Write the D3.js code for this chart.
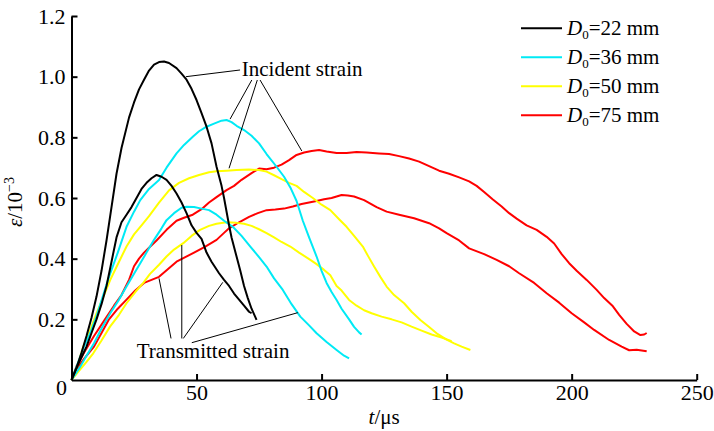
<!DOCTYPE html>
<html>
<head>
<meta charset="utf-8">
<script src="https://cdn.jsdelivr.net/npm/d3@7"></script>
<style>
  body { margin: 0; background: #fff; }
  svg text { font-family: "Liberation Serif", "DejaVu Serif", "Times New Roman", serif; }
</style>
</head>
<body>
<div id="main"></div>
<script>
// strain curves, [t (us), strain (1e-3)]
var inc22 = [[0,0],[2,0.04],[4,0.09],[6,0.145],[8,0.205],[10,0.275],[12,0.36],[14,0.46],[16,0.57],[18,0.68],[20,0.765],[23,0.865],[25,0.915],[27,0.958],[29,0.99],[31,1.02],[33,1.04],[35,1.048],[37,1.05],[39,1.045],[42,1.028],[44,1.01],[46,0.99],[48,0.96],[50,0.923],[52,0.88],[54,0.835],[56,0.78],[58,0.703],[60,0.64],[61,0.6],[63,0.51],[64,0.47],[66,0.407],[67.5,0.36],[69,0.31],[70.5,0.27],[72,0.235],[74,0.198]];
var trn22 = [[0,0],[2,0.04],[4,0.075],[6,0.11],[8,0.155],[10,0.2],[12,0.25],[14,0.31],[16,0.39],[18,0.47],[20,0.52],[22,0.545],[24,0.57],[26,0.6],[28,0.63],[30,0.65],[32,0.665],[34,0.676],[36,0.67],[38,0.66],[40,0.64],[42,0.615],[44,0.585],[46,0.55],[48,0.51],[50,0.485],[52,0.465],[54,0.42],[56,0.39],[59,0.352],[61,0.33],[63,0.31],[65,0.285],[67,0.265],[69,0.245],[71,0.225],[72,0.22]];
var inc36 = [[0,0],[3,0.066],[5,0.11],[7.5,0.155],[10,0.21],[12.5,0.275],[15,0.34],[18.5,0.42],[22,0.505],[25,0.555],[27.5,0.593],[31,0.63],[35,0.659],[38,0.7],[42,0.747],[45,0.775],[48.5,0.802],[51,0.82],[54,0.835],[57,0.845],[60,0.855],[62,0.857],[64,0.85],[66,0.838],[69,0.824],[72,0.805],[75,0.78],[78,0.745],[82,0.703],[85,0.67],[87.5,0.635],[90,0.59],[92.5,0.525],[95,0.47],[98,0.407],[100,0.36],[102,0.32],[104,0.29],[106,0.264],[108,0.235],[111,0.2],[113,0.175],[115,0.157],[116,0.15]];
var trn36 = [[0,0],[3.5,0.044],[6,0.08],[9,0.121],[12,0.17],[15.5,0.22],[19,0.265],[22,0.308],[25,0.35],[27.5,0.385],[30,0.42],[33,0.462],[36,0.5],[38,0.527],[41,0.55],[44,0.568],[46,0.571],[49,0.57],[52,0.565],[55,0.56],[58,0.545],[61,0.525],[64.5,0.505],[68,0.475],[71.5,0.44],[75,0.405],[78,0.374],[81,0.335],[84.5,0.297],[88,0.25],[91.5,0.209],[95,0.18],[98,0.154],[102,0.125],[106,0.099],[109,0.08],[111,0.071]];
var inc50 = [[0,0],[2.5,0.05],[4.7,0.11],[7.5,0.165],[10,0.22],[13,0.28],[15.5,0.33],[19,0.39],[22,0.44],[25,0.48],[28,0.51],[31,0.54],[35,0.585],[39,0.625],[43,0.65],[47,0.665],[51,0.676],[55,0.685],[58,0.688],[62,0.69],[66,0.692],[71,0.694],[75,0.692],[78,0.687],[81,0.675],[84,0.662],[87,0.65],[90,0.64],[93,0.62],[96.5,0.6],[100,0.578],[103.5,0.56],[107,0.53],[110,0.505],[113,0.475],[116.5,0.44],[118.5,0.41],[121,0.374],[123.5,0.34],[126,0.308],[129,0.28],[133,0.253],[136,0.225],[139.5,0.198],[143,0.175],[146,0.154],[150,0.133],[153,0.121],[156,0.11],[159.5,0.099]];
var trn50 = [[0,0],[3,0.03],[6,0.06],[8.7,0.088],[12,0.13],[15.4,0.176],[19,0.215],[22,0.253],[25.5,0.29],[28.7,0.32],[31.4,0.35],[35,0.38],[38,0.407],[41,0.43],[44.7,0.451],[48,0.475],[51.4,0.495],[55,0.508],[58,0.515],[62,0.52],[66,0.518],[69,0.515],[72,0.508],[75,0.497],[78,0.484],[81,0.47],[84,0.455],[87.5,0.44],[91,0.42],[95.5,0.396],[98,0.382],[101,0.363],[103.5,0.345],[106,0.31],[108,0.295],[111,0.264],[114,0.245],[117,0.23],[120,0.22],[124,0.209],[128,0.2],[132,0.19],[136,0.176],[140,0.163],[144,0.15],[148,0.14],[152,0.128]];
var inc75 = [[0,0],[2,0.045],[5,0.09],[9,0.145],[13,0.195],[17,0.245],[20,0.28],[23,0.33],[25,0.375],[27,0.4],[29,0.42],[31.5,0.44],[34,0.46],[38,0.495],[42,0.525],[45,0.535],[48.5,0.545],[52,0.563],[55,0.585],[58,0.603],[62,0.626],[65,0.64],[68,0.66],[72,0.682],[75,0.697],[78,0.695],[81,0.7],[84,0.71],[87,0.725],[90,0.742],[93,0.75],[96,0.755],[99,0.758],[102,0.753],[106,0.748],[110,0.748],[114,0.752],[118,0.75],[123,0.747],[127,0.745],[131,0.738],[135,0.73],[139,0.72],[143,0.705],[147,0.69],[151,0.68],[155,0.668],[159,0.655],[162,0.64],[165,0.62],[168.5,0.595],[172,0.572],[175,0.55],[178,0.532],[182,0.51],[186,0.495],[190,0.472],[193,0.45],[196,0.415],[199,0.385],[202,0.36],[206,0.33],[210,0.297],[213,0.27],[216.5,0.243],[219,0.215],[222,0.185],[225,0.16],[227.5,0.148],[229,0.15],[230,0.155]];
var trn75 = [[0,0],[2,0.035],[5,0.07],[9,0.11],[12,0.155],[15,0.2],[18.5,0.235],[22,0.265],[25.5,0.295],[29,0.32],[32,0.33],[35,0.34],[38.5,0.365],[42,0.39],[45.5,0.405],[49,0.42],[53.5,0.44],[58,0.462],[61,0.485],[63,0.5],[67,0.52],[71,0.538],[74.5,0.55],[78,0.56],[81.5,0.562],[85,0.565],[88.5,0.572],[92,0.58],[95,0.585],[98,0.59],[101,0.596],[104,0.6],[108,0.61],[110.5,0.608],[113,0.605],[117,0.593],[122,0.57],[126,0.555],[131,0.545],[137,0.533],[143,0.517],[147,0.5],[150,0.484],[155,0.46],[159,0.434],[165,0.415],[170,0.396],[175,0.375],[179,0.352],[185,0.32],[190,0.286],[195,0.255],[200,0.22],[205,0.19],[209,0.165],[215,0.132],[220,0.11],[223,0.098],[226,0.1],[230,0.095]];

var seriesNames = ["22", "36", "50", "75"];
var seriesColors = ["#000000", "#00eaf5", "#ffff00", "#ff0000"];
var seriesCurves = [[inc22, trn22], [inc36, trn36], [inc50, trn50], [inc75, trn75]];

var xTicks = [50, 100, 150, 200, 250];
var yTicks = [0.2, 0.4, 0.6, 0.8, 1.0, 1.2];

// annotation leaders in data units: [t1, v1, t2, v2]
var incidentLabel = {t: 68.1, v: 1.002, text: "Incident strain"};
var incidentLeaders = [[67.4, 1.022, 45.8, 1.0], [72.1, 0.989, 63.4, 0.86], [74.3, 0.989, 63, 0.698], [75.4, 0.989, 92.1, 0.755]];
var transmittedLabel = {t: 26.1, v: 0.0725, text: "Transmitted strain"};
var transmittedLeaders = [[39.8, 0.137, 35, 0.335], [44.1, 0.137, 44.1, 0.445], [44.7, 0.137, 60.5, 0.322], [48.1, 0.123, 90.5, 0.222]];

var serif = "'Liberation Serif', 'DejaVu Serif', serif";
var width = 714, height = 431;
var svg = d3.select("#main").append("svg")
  .attr("width", width)
  .attr("height", height)
  .attr("font-family", serif);

var x = d3.scaleLinear().domain([0, 250]).range([71.5, 696.7]);
var y = d3.scaleLinear().domain([0, 1.2]).range([380, 16]);

var line = d3.line()
  .x(function(d) { return x(d[0]); })
  .y(function(d) { return y(d[1]); });

// curves, drawn red first so black stays on top
for (var i = seriesCurves.length - 1; i >= 0; i--) {
  seriesCurves[i].forEach(function(c) {
    svg.append("path")
      .attr("d", line(c))
      .attr("fill", "none")
      .attr("stroke", seriesColors[i])
      .attr("stroke-width", 2)
      .attr("stroke-linejoin", "round");
  });
}

// axes
var xAxis = d3.axisBottom(x).tickValues(xTicks).tickSizeInner(-6).tickSizeOuter(0).tickPadding(4);
var gx = svg.append("g").attr("transform", "translate(0," + y(0) + ")").call(xAxis);
var yAxis = d3.axisLeft(y).tickValues(yTicks).tickSizeInner(-6).tickSizeOuter(0).tickPadding(6)
  .tickFormat(d3.format(".1f"));
var gy = svg.append("g").attr("transform", "translate(" + x(0) + ",0)").call(yAxis);
[gx, gy].forEach(function(g) {
  g.attr("font-family", serif).attr("font-size", 22);
  g.select(".domain").attr("stroke-width", 2);
  g.selectAll(".tick line").attr("stroke-width", 2);
  g.selectAll("text").attr("fill", "#000");
});

svg.append("text")
  .attr("x", x(0) - 10)
  .attr("y", y(0) + 15)
  .attr("text-anchor", "middle")
  .attr("font-size", 22)
  .text("0");

// axis titles
var xt = svg.append("text")
  .attr("x", (x(0) + x(250)) / 2)
  .attr("y", 424)
  .attr("text-anchor", "middle")
  .attr("font-size", 21);
xt.append("tspan").attr("font-style", "italic").text("t");
xt.append("tspan").text("/\u03bcs");

var yt = svg.append("text")
  .attr("transform", "translate(22,227) rotate(-90)")
  .attr("font-size", 21);
yt.append("tspan").attr("font-style", "italic").text("\u03b5");
yt.append("tspan").text("/10");
yt.append("tspan").attr("font-size", 14).attr("dy", -8).text("\u22123");

// legend
var legend = svg.selectAll(".legend").data(seriesNames).enter().append("g")
  .attr("class", "legend")
  .attr("transform", function(d, i) { return "translate(521," + (28.3 + 29 * i) + ")"; });
legend.append("line")
  .attr("x1", 0).attr("x2", 41)
  .attr("stroke", function(d, i) { return seriesColors[i]; })
  .attr("stroke-width", 2);
var lt = legend.append("text")
  .attr("x", 46)
  .attr("y", 7)
  .attr("font-size", 21);
lt.append("tspan").attr("font-style", "italic").text("D");
lt.append("tspan").attr("font-size", 13).attr("dy", 4).text("0");
lt.append("tspan").attr("dy", -4).text(function(d) { return "=" + d + " mm"; });

// annotations
function leaders(list) {
  svg.selectAll(null).data(list).enter().append("line")
    .attr("x1", function(d) { return x(d[0]); })
    .attr("y1", function(d) { return y(d[1]); })
    .attr("x2", function(d) { return x(d[2]); })
    .attr("y2", function(d) { return y(d[3]); })
    .attr("stroke", "#000")
    .attr("stroke-width", 1);
}
leaders(incidentLeaders);
leaders(transmittedLeaders);
[incidentLabel, transmittedLabel].forEach(function(l) {
  svg.append("text")
    .attr("x", x(l.t))
    .attr("y", y(l.v))
    .attr("font-size", 21)
    .text(l.text);
});
</script>
</body>
</html>
